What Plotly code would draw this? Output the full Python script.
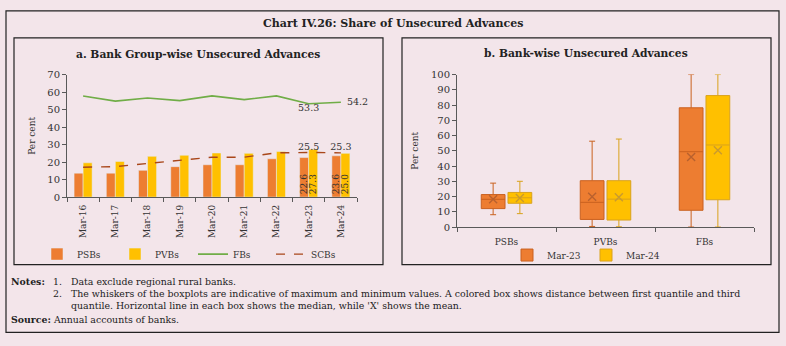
import plotly.graph_objects as go

W, H = 786, 346

# ---------------- data ----------------
years = ["Mar-16", "Mar-17", "Mar-18", "Mar-19", "Mar-20", "Mar-21", "Mar-22", "Mar-23", "Mar-24"]
psbs = [13.7, 13.7, 15.3, 17.4, 18.5, 18.5, 21.9, 22.6, 23.6]
pvbs = [19.6, 20.4, 23.3, 23.9, 25.2, 25.0, 26.1, 27.3, 25.0]
fbs = [57.7, 54.8, 56.6, 55.1, 57.8, 55.7, 57.8, 53.3, 54.2]
scbs = [17.1, 17.4, 19.2, 21.1, 22.8, 22.8, 25.3, 25.5, 25.3]

groups = ["PSBs", "PVBs", "FBs"]
# Mar-23 box statistics
m23_min = [8.1, 0.4, 0.0]
m23_q1 = [12.1, 5.0, 11.0]
m23_med = [18.2, 16.2, 49.4]
m23_q3 = [21.3, 30.4, 78.2]
m23_max = [28.8, 56.3, 100.0]
m23_mean = [18.2, 19.8, 46.0]
# Mar-24 box statistics
m24_min = [8.8, 0.2, 0.0]
m24_q1 = [15.6, 4.6, 17.9]
m24_med = [19.2, 18.3, 53.8]
m24_q3 = [22.7, 30.4, 86.2]
m24_max = [30.0, 57.7, 100.0]
m24_mean = [19.0, 19.5, 50.3]

# ---------------- styles ----------------
BG = "#F3E5EA"
ORANGE = "#ED7D31"
GOLD = "#FFC000"
GREEN = "#70AD47"
BROWN = "#A9471A"
SERIF = "DejaVu Serif"
AX = "#595959"
TXT = "#333333"


def px(x):
    return x / W


def py(y):
    return 1 - y / H


fig = go.Figure()

# ---- panel a ----
bar_txt_psb = [f"{v:.1f}" if i >= len(years) - 2 else "" for i, v in enumerate(psbs)]
bar_txt_pvb = [f"{v:.1f}" if i >= len(years) - 2 else "" for i, v in enumerate(pvbs)]
fig.add_trace(go.Bar(x=years, y=psbs, name="PSBs", marker_color=ORANGE,
                     text=bar_txt_psb, textposition="inside", insidetextanchor="start",
                     textangle=-90, constraintext="none",
                     textfont=dict(family=SERIF, size=9, color=TXT),
                     xaxis="x", yaxis="y", legend="legend"))
fig.add_trace(go.Bar(x=years, y=pvbs, name="PVBs", marker_color=GOLD,
                     text=bar_txt_pvb, textposition="inside", insidetextanchor="start",
                     textangle=-90, constraintext="none",
                     textfont=dict(family=SERIF, size=9, color=TXT),
                     xaxis="x", yaxis="y", legend="legend"))
fb_txt = ["" for _ in fbs]
fb_pos = ["top center" for _ in fbs]
fb_txt[-2] = f"{fbs[-2]:.1f}"
fb_pos[-2] = "bottom center"
fb_txt[-1] = "\u00a0\u00a0" + f"{fbs[-1]:.1f}"
fb_pos[-1] = "middle right"
fig.add_trace(go.Scatter(x=years, y=fbs, name="FBs", mode="lines+text",
                         line=dict(color=GREEN, width=1.6),
                         text=fb_txt, textposition=fb_pos, cliponaxis=False,
                         textfont=dict(family=SERIF, size=9.5, color=TXT),
                         xaxis="x", yaxis="y", legend="legend"))
scb_txt = ["" for _ in scbs]
scb_txt[-2] = f"{scbs[-2]:.1f}"
scb_txt[-1] = f"{scbs[-1]:.1f}"
fig.add_trace(go.Scatter(x=years, y=scbs, name="SCBs", mode="lines+text",
                         line=dict(color=BROWN, width=1.4, dash="dash"),
                         text=scb_txt, textposition="top center", cliponaxis=False,
                         textfont=dict(family=SERIF, size=9.5, color=TXT),
                         xaxis="x", yaxis="y", legend="legend"))

# ---- panel b ----
off = 0.135
pos23 = [i - off for i in range(len(groups))]
pos24 = [i + off for i in range(len(groups))]
fig.add_trace(go.Box(x=pos23, q1=m23_q1, median=m23_med, q3=m23_q3,
                     lowerfence=m23_min, upperfence=m23_max, width=0.24,
                     name="Mar-23", fillcolor=ORANGE, line=dict(color="#C9611F", width=1),
                     whiskerwidth=0.25, boxpoints=False,
                     xaxis="x2", yaxis="y2", legend="legend2"))
fig.add_trace(go.Box(x=pos24, q1=m24_q1, median=m24_med, q3=m24_q3,
                     lowerfence=m24_min, upperfence=m24_max, width=0.24,
                     name="Mar-24", fillcolor=GOLD, line=dict(color="#D9A21C", width=1),
                     whiskerwidth=0.25, boxpoints=False,
                     xaxis="x2", yaxis="y2", legend="legend2"))
fig.add_trace(go.Scatter(x=pos23, y=m23_mean, mode="markers", showlegend=False,
                         marker=dict(symbol="x-thin", size=8, line=dict(color="#B8612E", width=1.4)),
                         xaxis="x2", yaxis="y2", hoverinfo="skip"))
fig.add_trace(go.Scatter(x=pos24, y=m24_mean, mode="markers", showlegend=False,
                         marker=dict(symbol="x-thin", size=8, line=dict(color="#C99A2E", width=1.4)),
                         xaxis="x2", yaxis="y2", hoverinfo="skip"))

xtickfont = dict(family=SERIF, size=9, color=TXT)
ytickfont = dict(family=SERIF, size=10, color=TXT)
ytitle = dict(text="Per cent", font=dict(family=SERIF, size=9, color=TXT), standoff=10)

fig.update_layout(
    width=W, height=H,
    margin=dict(l=0, r=0, t=0, b=0),
    paper_bgcolor=BG, plot_bgcolor=BG,
    barmode="group", bargap=0.44, bargroupgap=0,
    showlegend=True,
    xaxis=dict(domain=[px(67), px(357)], anchor="y", type="category",
               tickson="boundaries", ticks="outside", ticklen=4, tickcolor=AX,
               showline=True, linecolor=AX, linewidth=1, showgrid=False,
               tickangle=-90, tickfont=xtickfont, ticklabelstandoff=3),
    yaxis=dict(domain=[py(198), py(71)], anchor="x", range=[0, 70], dtick=10,
               ticks="outside", ticklen=4, tickcolor=AX, showline=True, linecolor=AX,
               linewidth=1, showgrid=False, zeroline=False, tickfont=ytickfont,
               title=ytitle),
    xaxis2=dict(domain=[px(457), px(754)], anchor="y2", range=[-0.5, 2.5],
                tickmode="array", tickvals=list(range(len(groups))), ticktext=groups,
                ticks="", showline=True, linecolor=AX, linewidth=1, showgrid=False,
                zeroline=False, tickfont=xtickfont, ticklabelstandoff=6,
                minor=dict(tickmode="array", tickvals=[-0.5, 0.5, 1.5, 2.5],
                           ticks="outside", ticklen=4, tickcolor=AX, showgrid=False)),
    yaxis2=dict(domain=[py(229), py(71)], anchor="x2", range=[0, 100], dtick=10,
                ticks="outside", ticklen=4, tickcolor=AX, showline=True, linecolor=AX,
                linewidth=1, showgrid=False, zeroline=False, tickfont=ytickfont,
                title=ytitle),
    legend=dict(orientation="h", x=px(37), y=py(257), xanchor="left", yanchor="middle",
                font=dict(family=SERIF, size=9, color=TXT), bgcolor="rgba(0,0,0,0)",
                entrywidth=33, entrywidthmode="pixels", traceorder="normal"),
    legend2=dict(orientation="h", x=px(507), y=py(258), xanchor="left", yanchor="middle",
                 font=dict(family=SERIF, size=9, color=TXT), bgcolor="rgba(0,0,0,0)",
                 entrywidth=34, entrywidthmode="pixels"),
)

# borders
shapes = [
    dict(type="rect", xref="paper", yref="paper", x0=px(6), x1=px(779), y0=py(338), y1=py(5),
         line=dict(color="#222222", width=1.2), fillcolor="rgba(0,0,0,0)", layer="below"),
    dict(type="rect", xref="paper", yref="paper", x0=px(14), x1=px(383), y0=py(268), y1=py(33),
         line=dict(color="#222222", width=1.2), fillcolor="rgba(0,0,0,0)", layer="below"),
    dict(type="rect", xref="paper", yref="paper", x0=px(402), x1=px(771), y0=py(268), y1=py(33),
         line=dict(color="#222222", width=1.2), fillcolor="rgba(0,0,0,0)", layer="below"),
]
fig.update_layout(shapes=shapes)

ann = []


def text(x, y, s, size=9.5, xanchor="left", yanchor="middle"):
    ann.append(dict(x=px(x), y=py(y), xref="paper", yref="paper", text=s, showarrow=False,
                    xanchor=xanchor, yanchor=yanchor, align="left", borderpad=0,
                    font=dict(family=SERIF, size=size, color="#222222")))


text(393, 18, "<b>Chart IV.26: Share of Unsecured Advances</b>", size=11, xanchor="center")
text(198, 50, "<b>a. Bank Group-wise Unsecured Advances</b>", size=10.7, xanchor="center")
text(586, 49, "<b>b. Bank-wise Unsecured Advances</b>", size=10.7, xanchor="center")

NS = 9.4
text(10, 279, "<b>Notes:</b>", size=NS, yanchor="top")
text(52, 279, "1.<br>2.", size=NS, yanchor="top")
text(70, 279, "Data exclude regional rural banks.<br>"
              "The whiskers of the boxplots are indicative of maximum and minimum values. "
              "A colored box shows distance between first quantile and third<br>"
              "quantile. Horizontal line in each box shows the median, while 'X' shows the mean.",
     size=NS, yanchor="top")
text(10, 318, "<b>Source:</b> Annual accounts of banks.", size=NS, yanchor="top")
fig.update_layout(annotations=ann)

fig.write_html("out.html")
